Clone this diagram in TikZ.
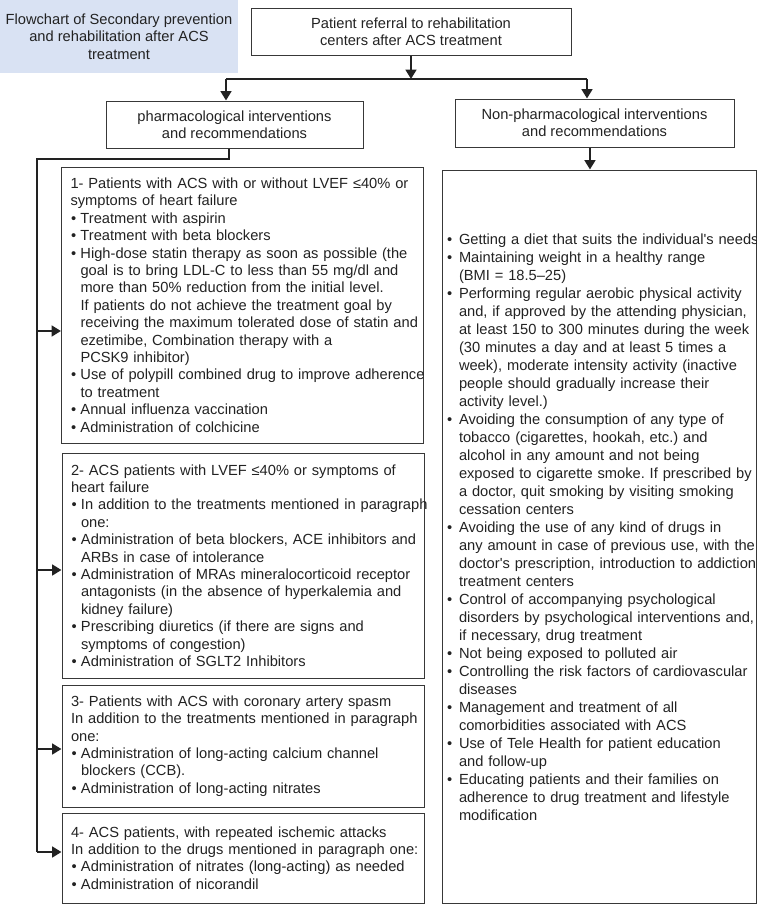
\documentclass[tikz,border=0pt]{standalone}
\usepackage{fontspec}
\setmainfont{Liberation Sans}
\usetikzlibrary{arrows.meta,positioning}
\frenchspacing
\definecolor{titleblue}{RGB}{217,226,243}
\definecolor{ink}{RGB}{34,34,34}
% bullets for the two kinds of list boxes
\newcommand{\pitem}{\makebox[7.5pt][l]{\hspace{0.4pt}•}}
\newcommand{\pcont}{\hspace*{7.5pt}}
\newcommand{\nitem}{\makebox[9.75pt][l]{\hspace{0.75pt}•}}
\newcommand{\ncont}{\hspace*{9.75pt}}
\tikzset{
  basic/.style    = {draw=ink!90, line width=0.75pt, text=ink, rectangle, inner ysep=0pt},
  titlebox/.style = {fill=titleblue, text=ink, align=center, inner sep=0pt,
                     minimum width=178.5pt, minimum height=54.75pt,
                     font=\fontsize{11}{13.1}\selectfont},
  headbox/.style  = {basic, align=center, minimum height=35.25pt,
                     font=\fontsize{11}{13}\selectfont},
  groupbox/.style = {basic, align=left, inner xsep=6.75pt, text width=258pt,
                     font=\fontsize{11}{13.05}\selectfont,
                     execute at begin node={\rightskip=0pt plus 1fil minus 60pt\relax}},
  listbox/.style  = {basic, align=left, inner xsep=3pt, text width=229.5pt,
                     font=\fontsize{11}{13.5}\selectfont,
                     execute at begin node={\rightskip=0pt plus 1fil minus 60pt\relax}},
  flowline/.style  = {draw=ink, line width=0.9pt},
  flowarrow/.style = {draw=ink, line width=2pt, ->},
}

\begin{document}
\begin{tikzpicture}[x=0.75pt, y=-0.75pt,
  >={Triangle[length=7pt,width=8pt]}]
\useasboundingbox (0,0) rectangle (757,904);

% title and first level
\node[titlebox] (ttl) at (119,36.5) {Flowchart of Secondary prevention\\and rehabilitation after ACS\\treatment};
\node[headbox, minimum width=240pt] (top) at (411,31.5) {Patient referral to rehabilitation\\centers after ACS treatment};
\node[headbox, minimum width=192.75pt] (ph) at (234.5,124.5) {pharmacological interventions\\and recommendations};
\node[headbox, minimum width=209.25pt, minimum height=36pt] (np) at (594.5,123) {Non-pharmacological interventions\\and recommendations};

% pharmacological groups
\node[groupbox, minimum height=207pt] (b1) at (242.5,305) {1- Patients with ACS with or without LVEF ≤40\% or\\
symptoms of heart failure\\
\pitem Treatment with aspirin\\
\pitem Treatment with beta blockers\\
\pitem High-dose statin therapy as soon as possible (the\\
\pcont goal is to bring LDL-C to less than 55 mg/dl and\\
\pcont more than 50\% reduction from the initial level.\\
\pcont If patients do not achieve the treatment goal by\\
\pcont receiving the maximum tolerated dose of statin and\\
\pcont ezetimibe, Combination therapy with a\\
\pcont PCSK9 inhibitor)\\
\pitem Use of polypill combined drug to improve adherence\\
\pcont to treatment\\
\pitem Annual influenza vaccination\\
\pitem Administration of colchicine};

\node[groupbox, minimum height=168.75pt] (b2) at (243,565.5) {2- ACS patients with LVEF ≤40\% or symptoms of\\
heart failure\\
\pitem In addition to the treatments mentioned in paragraph\\
\pcont one:\\
\pitem Administration of beta blockers, ACE inhibitors and\\
\pcont ARBs in case of intolerance\\
\pitem Administration of MRAs mineralocorticoid receptor\\
\pcont antagonists (in the absence of hyperkalemia and\\
\pcont kidney failure)\\
\pitem Prescribing diuretics (if there are signs and\\
\pcont symptoms of congestion)\\
\pitem Administration of SGLT2 Inhibitors};

\node[groupbox, minimum height=91.5pt] (b3) at (243,746) {3- Patients with ACS with coronary artery spasm\\
In addition to the treatments mentioned in paragraph\\
one:\\
\pitem Administration of long-acting calcium channel\\
\pcont blockers (CCB).\\
\pitem Administration of long-acting nitrates};

\node[groupbox, minimum height=67.5pt] (b4) at (243,858) {4- ACS patients, with repeated ischemic attacks\\
In addition to the drugs mentioned in paragraph one:\\
\pitem Administration of nitrates (long-acting) as needed\\
\pitem Administration of nicorandil};

% non-pharmacological list
\node[listbox, minimum height=549.75pt] (rb) at (599,536.5) {\nitem Getting a diet that suits the individual\textquotesingle s needs\\
\nitem Maintaining weight in a healthy range\\
\ncont (BMI = 18.5–25)\\
\nitem Performing regular aerobic physical activity\\
\ncont and, if approved by the attending physician,\\
\ncont at least 150 to 300 minutes during the week\\
\ncont (30 minutes a day and at least 5 times a\\
\ncont week), moderate intensity activity (inactive\\
\ncont people should gradually increase their\\
\ncont activity level.)\\
\nitem Avoiding the consumption of any type of\\
\ncont tobacco (cigarettes, hookah, etc.) and\\
\ncont alcohol in any amount and not being\\
\ncont exposed to cigarette smoke. If prescribed by\\
\ncont a doctor, quit smoking by visiting smoking\\
\ncont cessation centers\\
\nitem Avoiding the use of any kind of drugs in\\
\ncont any amount in case of previous use, with the\\
\ncont doctor\textquotesingle s prescription, introduction to addiction\\
\ncont treatment centers\\
\nitem Control of accompanying psychological\\
\ncont disorders by psychological interventions and,\\
\ncont if necessary, drug treatment\\
\nitem Not being exposed to polluted air\\
\nitem Controlling the risk factors of cardiovascular\\
\ncont diseases\\
\nitem Management and treatment of all\\
\ncont comorbidities associated with ACS\\
\nitem Use of Tele Health for patient education\\
\ncont and follow-up\\
\nitem Educating patients and their families on\\
\ncont adherence to drug treatment and lifestyle\\
\ncont modification\\
\mbox{}};

% connectors
\coordinate (j0) at (411,79);
\coordinate (jl) at (226,79);
\coordinate (jr) at (587,79);
\draw[flowarrow] (top.south) -- (j0);
\draw[flowline] (jl) -- (jr);
\draw[flowarrow] (jl) -- (jl |- ph.north);
\draw[flowarrow] (jr) -- (jr |- np.north);
\draw[flowarrow] ([xshift=-3.4pt]np.south) -- ([xshift=-3.4pt]np.south |- rb.north);

\coordinate (rt) at (37,159);
\foreach \value/\ypos in {1/331,2/570,3/749,4/852}
  \coordinate (r\value) at (37,\ypos);
\draw[flowline] ([xshift=-4.1pt]ph.south) |- (rt) -- (r4);

\foreach \value in {1,...,4}
  \draw[flowarrow] (r\value) -- (r\value -| b\value.west);

\end{tikzpicture}
\end{document}
